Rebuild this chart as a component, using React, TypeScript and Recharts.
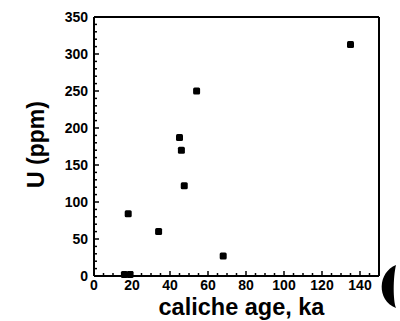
import { ScatterChart, Scatter, XAxis, YAxis } from 'recharts';

// caliche age (ka) vs uranium (ppm)
const ages = [16, 19, 18, 34, 47.5, 45, 46, 54, 68, 135];
const uranium = [2, 2, 84, 60, 122, 187, 170, 250, 27, 313];

const xTicks = Array.from({ length: 31 }, (_, i) => i * 5);
const yTicks = Array.from({ length: 36 }, (_, i) => i * 10);

const points = ages.map((age, i) => ({ age, u: uranium[i] }));

const font = '"Liberation Sans", Arial, sans-serif';

const BottomTick = (p: any) => {
  const v = p.payload.value;
  const major = v % 20 === 0;
  return (
    <g>
      <line x1={p.x} x2={p.x} y1={p.y} y2={p.y - (major ? 5 : 3)} stroke="#000" strokeWidth={1.5} />
      {major && v <= 140 && (
        <text x={p.x} y={p.y + 14} textAnchor="middle" fontFamily={font} fontWeight="bold" fontSize={14} fill="#000">
          {v}
        </text>
      )}
    </g>
  );
};

const TopTick = (p: any) => {
  const major = p.payload.value % 20 === 0;
  return <line x1={p.x} x2={p.x} y1={p.y} y2={p.y + (major ? 5 : 3)} stroke="#000" strokeWidth={1.5} />;
};

const LeftTick = (p: any) => {
  const v = p.payload.value;
  const major = v % 50 === 0;
  return (
    <g>
      <line x1={p.x} x2={p.x + (major ? 5 : 3)} y1={p.y} y2={p.y} stroke="#000" strokeWidth={1.5} />
      {major && (
        <text x={p.x - 6} y={p.y + 5} textAnchor="end" fontFamily={font} fontWeight="bold" fontSize={14} fill="#000">
          {v}
        </text>
      )}
    </g>
  );
};

const RightTick = (p: any) => {
  const major = p.payload.value % 50 === 0;
  return <line x1={p.x} x2={p.x - (major ? 5 : 3)} y1={p.y} y2={p.y} stroke="#000" strokeWidth={1.5} />;
};

const Square = (p: any) => (
  <rect x={p.cx - 3.5} y={p.cy - 3.5} width={7} height={7} rx={1.5} fill="#000" />
);

export default function App() {
  return (
    <div style={{ position: 'absolute', left: 0, top: 0, width: 400, height: 321, background: '#fff' }}>
      <ScatterChart width={400} height={321} margin={{ top: 16, right: 20, bottom: 0, left: 0 }}>
        <XAxis
          dataKey="age"
          type="number"
          domain={[0, 150]}
          ticks={xTicks}
          interval={0}
          tickSize={0}
          tickMargin={0}
          tickLine={false}
          axisLine={{ stroke: '#000', strokeWidth: 2 }}
          tick={BottomTick}
          height={45}
          label={({ viewBox }: any) => (
            <text
              x={viewBox.x + viewBox.width / 2 + 5}
              y={viewBox.y + 39}
              textAnchor="middle"
              fontFamily={font}
              fontWeight="bold"
              fontSize={23.5}
              fill="#000"
            >
              caliche age, ka
            </text>
          )}
        />
        <XAxis
          xAxisId="top"
          orientation="top"
          type="number"
          domain={[0, 150]}
          ticks={xTicks}
          interval={0}
          tickSize={0}
          tickMargin={0}
          tickLine={false}
          axisLine={{ stroke: '#000', strokeWidth: 2 }}
          tick={TopTick}
          height={1}
        />
        <YAxis
          dataKey="u"
          type="number"
          domain={[0, 350]}
          ticks={yTicks}
          interval={0}
          tickSize={0}
          tickMargin={0}
          tickLine={false}
          axisLine={{ stroke: '#000', strokeWidth: 2 }}
          tick={LeftTick}
          width={94}
          label={({ viewBox }: any) => {
            const cx = 44;
            const cy = viewBox.y + viewBox.height / 2 - 2;
            return (
              <text
                x={cx}
                y={cy}
                transform={`rotate(-90 ${cx} ${cy})`}
                textAnchor="middle"
                fontFamily={font}
                fontWeight="bold"
                fontSize={23}
                fill="#000"
              >
                U (ppm)
              </text>
            );
          }}
        />
        <YAxis
          yAxisId="right"
          orientation="right"
          type="number"
          domain={[0, 350]}
          ticks={yTicks}
          interval={0}
          tickSize={0}
          tickMargin={0}
          tickLine={false}
          axisLine={{ stroke: '#000', strokeWidth: 2 }}
          tick={RightTick}
          width={1}
        />
        <Scatter data={points} fill="#000" shape={Square} isAnimationActive={false} />
      </ScatterChart>
      <svg width={400} height={321} style={{ position: 'absolute', left: 0, top: 0, pointerEvents: 'none' }}>
        <path d="M 396 265 C 378 272, 376 300, 396 308 C 393 300, 393 278, 396 265 Z" fill="#000" />
      </svg>
    </div>
  );
}
